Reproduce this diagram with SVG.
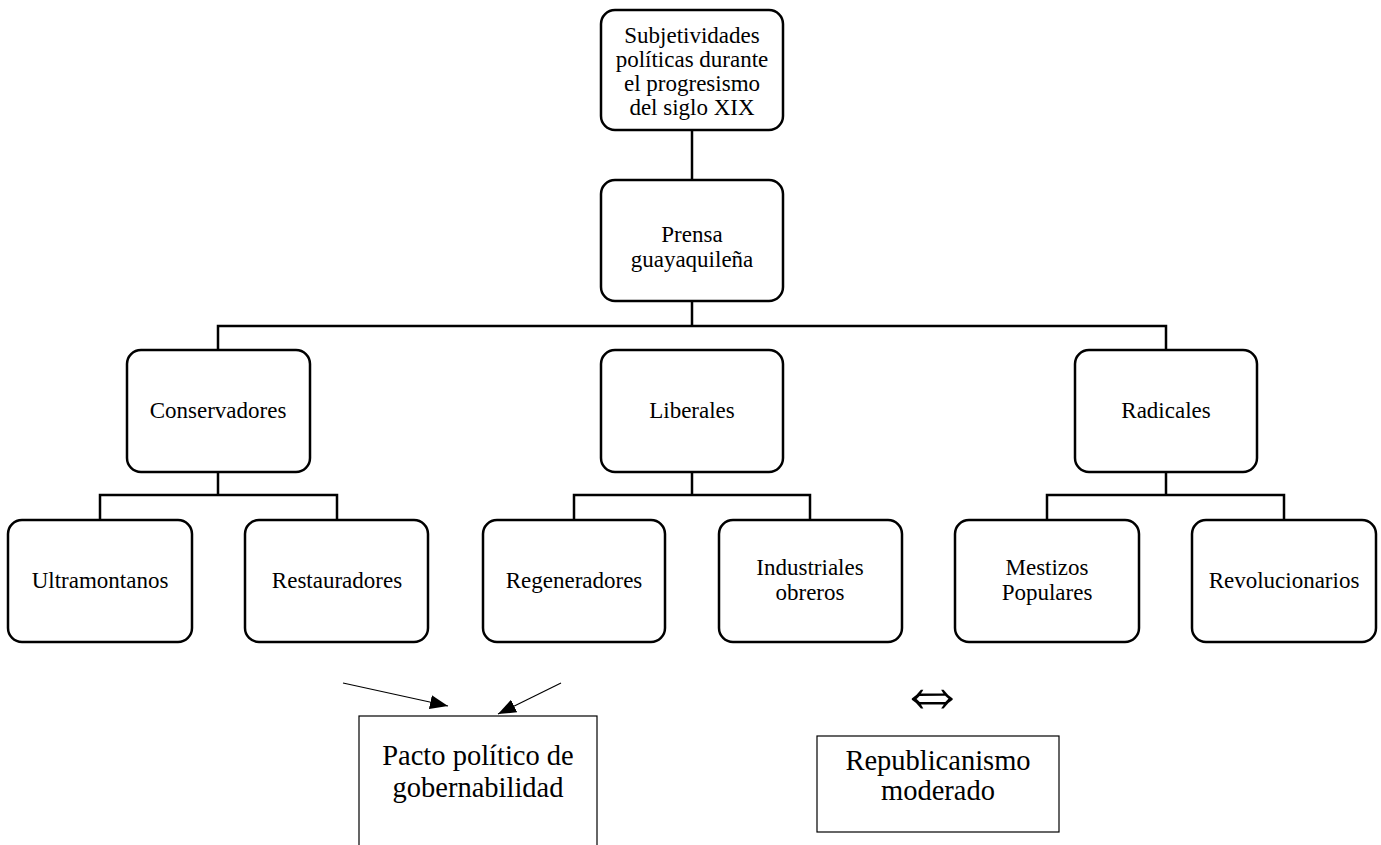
<svg xmlns="http://www.w3.org/2000/svg" width="1381" height="845" viewBox="0 0 1381 845">
<style>
.box{fill:#fff;stroke:#000;stroke-width:2.5}
.plain{fill:#fff;stroke:#000;stroke-width:1.2}
.con{fill:none;stroke:#000;stroke-width:2.5}
.arr{fill:none;stroke:#000;stroke-width:1.2}
text{font-family:"Liberation Serif","Times New Roman",serif;fill:#000;text-anchor:middle}
.t{font-size:23px}
.big{font-size:28.5px}
</style>
<defs>
<marker id="ah" viewBox="0 0 18 14" refX="18" refY="7" markerWidth="18" markerHeight="14" markerUnits="userSpaceOnUse" orient="auto">
<path d="M0,0 L18,7 L0,14 Z" fill="#000"/>
</marker>
</defs>
<rect width="1381" height="845" fill="#fff"/>
<g id="connectors">
<line class="con" x1="692" y1="130" x2="692" y2="180"/>
<path class="con" d="M692,300 V326 M218,350 V326 H1166 V350"/>
<path class="con" d="M218,472 V495 M100,520 V495 H337 V520"/>
<path class="con" d="M692,472 V495 M574,520 V495 H810 V520"/>
<path class="con" d="M1166,472 V495 M1047,520 V495 H1284 V520"/>
<line class="arr" x1="343" y1="683" x2="448" y2="706" marker-end="url(#ah)"/>
<line class="arr" x1="561" y1="683" x2="498" y2="714" marker-end="url(#ah)"/>
</g>
<g id="n-top"><rect class="box" x="601" y="10" width="182" height="120" rx="14"/>
<text class="t" x="692" y="43">Subjetividades</text><text class="t" x="692" y="67">políticas durante</text><text class="t" x="692" y="91">el progresismo</text><text class="t" x="692" y="115">del siglo XIX</text></g>
<g id="n-prensa"><rect class="box" x="601" y="180" width="182" height="121" rx="14"/>
<text class="t" x="692" y="242">Prensa</text><text class="t" x="692" y="267">guayaquileña</text></g>
<g id="n-cons"><rect class="box" x="127" y="350" width="183" height="122" rx="14"/><text class="t" x="218" y="418">Conservadores</text></g>
<g id="n-lib"><rect class="box" x="601" y="350" width="182" height="122" rx="14"/><text class="t" x="692" y="418">Liberales</text></g>
<g id="n-rad"><rect class="box" x="1075" y="350" width="182" height="122" rx="14"/><text class="t" x="1166" y="418">Radicales</text></g>
<g id="n-ultra"><rect class="box" x="8" y="520" width="184" height="122" rx="14"/><text class="t" x="100" y="588">Ultramontanos</text></g>
<g id="n-rest"><rect class="box" x="245" y="520" width="183" height="122" rx="14"/><text class="t" x="337" y="588">Restauradores</text></g>
<g id="n-regen"><rect class="box" x="483" y="520" width="182" height="122" rx="14"/><text class="t" x="574" y="588">Regeneradores</text></g>
<g id="n-ind"><rect class="box" x="719" y="520" width="183" height="122" rx="14"/><text class="t" x="810" y="575">Industriales</text><text class="t" x="810" y="600">obreros</text></g>
<g id="n-mest"><rect class="box" x="955" y="520" width="184" height="122" rx="14"/><text class="t" x="1047" y="575">Mestizos</text><text class="t" x="1047" y="600">Populares</text></g>
<g id="n-rev"><rect class="box" x="1192" y="520" width="184" height="122" rx="14"/><text class="t" x="1284" y="588">Revolucionarios</text></g>
<g id="n-pacto"><rect class="plain" x="359" y="716" width="238" height="140"/>
<text class="big" x="478" y="765">Pacto político de</text><text class="big" x="478" y="797">gobernabilidad</text></g>
<g id="n-equiv"><text transform="translate(932,697) scale(1.28,1.5)" x="0" y="14" style="font-family:'DejaVu Sans',sans-serif;font-weight:200;font-size:54px">⇔</text></g>
<g id="n-repub"><rect class="plain" x="817" y="736" width="242" height="96"/>
<text class="big" x="938" y="770">Republicanismo</text><text class="big" x="938" y="800">moderado</text></g>
</svg>
